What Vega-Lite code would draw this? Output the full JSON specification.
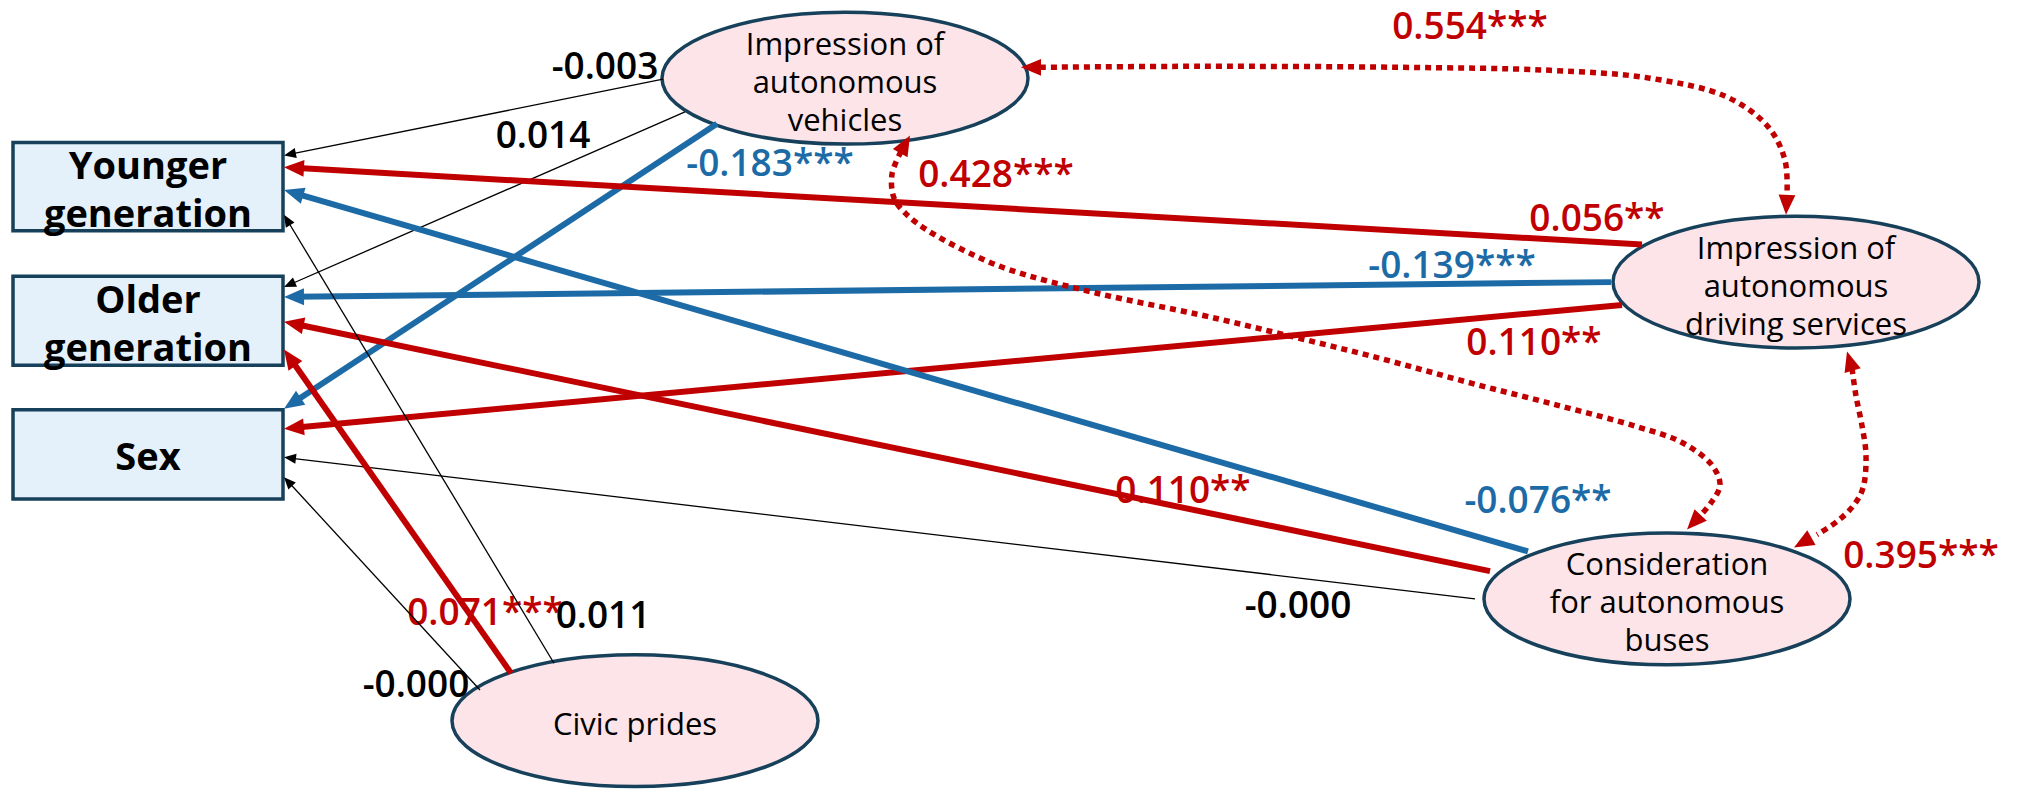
{
  "$schema": "https://vega.github.io/schema/vega-lite/v6.json",
  "description": "Path diagram: impressions of autonomous vehicles, services, buses and civic pride",
  "width": 2025,
  "height": 793,
  "autosize": {"type": "fit", "contains": "padding"},
  "padding": 0,
  "background": "white",
  "config": {"view": {"stroke": null}, "axis": {"disable": true}, "font": "Open Sans"},
  "datasets": {
    "boxes": [
      {"label": "Younger\ngeneration", "x1": 13, "x2": 283, "y1": 144, "y2": 233},
      {"label": "Older\ngeneration", "x1": 13, "x2": 283, "y1": 279, "y2": 369},
      {"label": "Sex", "x1": 13, "x2": 283, "y1": 414, "y2": 504}
    ],
    "nodes": [
      {"label": "Impression of\nautonomous\nvehicles", "x": 845, "y": 79},
      {"label": "Impression of\nautonomous\ndriving services", "x": 1796, "y": 285},
      {"label": "Consideration\nfor autonomous\nbuses", "x": 1667, "y": 605},
      {"label": "Civic prides", "x": 635, "y": 728}
    ],
    "edges": [
      {"sx": 663, "sy": 80, "tx": 284, "ty": 157, "kind": "ns"},
      {"sx": 685, "sy": 113, "tx": 284, "ty": 290, "kind": "ns"},
      {"sx": 717, "sy": 125, "tx": 284, "ty": 413, "kind": "neg"},
      {"sx": 1642, "sy": 247, "tx": 284, "ty": 169, "kind": "pos"},
      {"sx": 1611, "sy": 285, "tx": 284, "ty": 300, "kind": "neg"},
      {"sx": 1622, "sy": 308, "tx": 284, "ty": 433, "kind": "pos"},
      {"sx": 1528, "sy": 557, "tx": 284, "ty": 192, "kind": "neg"},
      {"sx": 1490, "sy": 577, "tx": 284, "ty": 325, "kind": "pos"},
      {"sx": 1475, "sy": 605, "tx": 284, "ty": 462, "kind": "ns"},
      {"sx": 554, "sy": 670, "tx": 284, "ty": 217, "kind": "ns"},
      {"sx": 511, "sy": 680, "tx": 284, "ty": 353, "kind": "pos"},
      {"sx": 480, "sy": 697, "tx": 284, "ty": 482, "kind": "ns"}
    ],
    "labels": [
      {"text": "-0.003", "x": 605, "y": 67, "kind": "ns"},
      {"text": "0.014", "x": 543, "y": 136, "kind": "ns"},
      {"text": "-0.183***", "x": 770, "y": 165, "kind": "neg"},
      {"text": "0.428***", "x": 996, "y": 176, "kind": "pos"},
      {"text": "0.554***", "x": 1470, "y": 26, "kind": "pos"},
      {"text": "0.056**", "x": 1597, "y": 220, "kind": "pos"},
      {"text": "-0.139***", "x": 1452, "y": 268, "kind": "neg"},
      {"text": "0.110**", "x": 1534, "y": 345, "kind": "pos"},
      {"text": "0.110**", "x": 1183, "y": 495, "kind": "pos"},
      {"text": "-0.076**", "x": 1538, "y": 505, "kind": "neg"},
      {"text": "0.395***", "x": 1921, "y": 561, "kind": "pos"},
      {"text": "-0.000", "x": 1298, "y": 611, "kind": "ns"},
      {"text": "0.071***", "x": 485, "y": 618, "kind": "pos"},
      {"text": "0.011", "x": 603, "y": 621, "kind": "ns"},
      {"text": "-0.000", "x": 416, "y": 691, "kind": "ns"}
    ],
    "curves": [
      {"curve": "a", "seq": 1, "x": 1040, "y": 68},
      {"curve": "a", "seq": 2, "x": 1200, "y": 67},
      {"curve": "a", "seq": 3, "x": 1400, "y": 68},
      {"curve": "a", "seq": 4, "x": 1550, "y": 71},
      {"curve": "a", "seq": 5, "x": 1650, "y": 79},
      {"curve": "a", "seq": 6, "x": 1727, "y": 98},
      {"curve": "a", "seq": 7, "x": 1768, "y": 128},
      {"curve": "a", "seq": 8, "x": 1785, "y": 162},
      {"curve": "a", "seq": 9, "x": 1787, "y": 197},
      {"curve": "b", "seq": 1, "x": 901, "y": 153},
      {"curve": "b", "seq": 2, "x": 892, "y": 176},
      {"curve": "b", "seq": 3, "x": 894, "y": 200},
      {"curve": "b", "seq": 4, "x": 906, "y": 216},
      {"curve": "b", "seq": 5, "x": 928, "y": 233},
      {"curve": "b", "seq": 6, "x": 964, "y": 253},
      {"curve": "b", "seq": 7, "x": 1008, "y": 272},
      {"curve": "b", "seq": 8, "x": 1096, "y": 296},
      {"curve": "b", "seq": 9, "x": 1200, "y": 318},
      {"curve": "b", "seq": 10, "x": 1280, "y": 337},
      {"curve": "b", "seq": 11, "x": 1380, "y": 362},
      {"curve": "b", "seq": 12, "x": 1471, "y": 387},
      {"curve": "b", "seq": 13, "x": 1560, "y": 410},
      {"curve": "b", "seq": 14, "x": 1637, "y": 431},
      {"curve": "b", "seq": 15, "x": 1682, "y": 447},
      {"curve": "b", "seq": 16, "x": 1712, "y": 470},
      {"curve": "b", "seq": 17, "x": 1720, "y": 490},
      {"curve": "b", "seq": 18, "x": 1711, "y": 508},
      {"curve": "b", "seq": 19, "x": 1701, "y": 520},
      {"curve": "c", "seq": 1, "x": 1852, "y": 372},
      {"curve": "c", "seq": 2, "x": 1856, "y": 400},
      {"curve": "c", "seq": 3, "x": 1862, "y": 430},
      {"curve": "c", "seq": 4, "x": 1866, "y": 460},
      {"curve": "c", "seq": 5, "x": 1863, "y": 493},
      {"curve": "c", "seq": 6, "x": 1854, "y": 510},
      {"curve": "c", "seq": 7, "x": 1838, "y": 526},
      {"curve": "c", "seq": 8, "x": 1817, "y": 540}
    ],
    "curveHeads": [
      {"tx": 1021, "ty": 68, "fx": 1040, "fy": 68},
      {"tx": 1786, "ty": 217, "fx": 1787, "fy": 197},
      {"tx": 910, "ty": 137, "fx": 901, "fy": 153},
      {"tx": 1687, "ty": 535, "fx": 1701, "fy": 520},
      {"tx": 1847, "ty": 355, "fx": 1852, "fy": 372},
      {"tx": 1794, "ty": 553, "fx": 1817, "fy": 540}
    ]
  },
  "layer": [
    {
      "data": {"name": "boxes"},
      "mark": {"type": "rect", "fill": "#E4F1FB", "stroke": "#17405A", "strokeWidth": 3.5},
      "encoding": {
        "x": {"field": "x1", "type": "quantitative", "scale": {"domain": [0, 2025], "nice": false, "zero": false}},
        "x2": {"field": "x2"},
        "y": {"field": "y1", "type": "quantitative", "scale": {"domain": [0, 793], "reverse": true, "nice": false, "zero": false}},
        "y2": {"field": "y2"}
      }
    },
    {
      "data": {"name": "nodes"},
      "mark": {
        "type": "point",
        "shape": "M-1,0C-1,-0.199,-0.552,-0.36,0,-0.36C0.552,-0.36,1,-0.199,1,0C1,0.199,0.552,0.36,0,0.36C-0.552,0.36,-1,0.199,-1,0Z",
        "size": 133956,
        "filled": true,
        "fill": "#FCE4E8",
        "stroke": "#17405A",
        "strokeWidth": 3.5,
        "opacity": 1
      },
      "encoding": {
        "x": {"field": "x", "type": "quantitative", "scale": {"domain": [0, 2025], "nice": false, "zero": false}},
        "y": {"field": "y", "type": "quantitative", "scale": {"domain": [0, 793], "reverse": true, "nice": false, "zero": false}}
      }
    },
    {
      "data": {"name": "labels"},
      "mark": {"type": "text", "fontSize": 37, "fontWeight": 600, "align": "center", "baseline": "middle", "dy": 2},
      "encoding": {
        "x": {"field": "x", "type": "quantitative", "scale": {"domain": [0, 2025], "nice": false, "zero": false}},
        "y": {"field": "y", "type": "quantitative", "scale": {"domain": [0, 793], "reverse": true, "nice": false, "zero": false}},
        "text": {"field": "text"},
        "color": {"field": "kind", "type": "nominal", "scale": {"domain": ["pos", "neg", "ns"], "range": ["#C00000", "#1D6BA6", "#000000"]}, "legend": null}
      }
    },
    {
      "data": {"name": "edges"},
      "transform": [
        {"calculate": "sqrt(pow(datum.tx - datum.sx, 2) + pow(datum.ty - datum.sy, 2))", "as": "len"},
        {"calculate": "datum.kind === 'ns' ? 4 : 10", "as": "cut"},
        {"calculate": "datum.tx - (datum.tx - datum.sx) / datum.len * datum.cut", "as": "ex"},
        {"calculate": "datum.ty - (datum.ty - datum.sy) / datum.len * datum.cut", "as": "ey"}
      ],
      "mark": {"type": "rule", "strokeCap": "butt"},
      "encoding": {
        "x": {"field": "sx", "type": "quantitative", "scale": {"domain": [0, 2025], "nice": false, "zero": false}},
        "y": {"field": "sy", "type": "quantitative", "scale": {"domain": [0, 793], "reverse": true, "nice": false, "zero": false}},
        "x2": {"field": "ex"},
        "y2": {"field": "ey"},
        "color": {"field": "kind", "type": "nominal", "scale": {"domain": ["pos", "neg", "ns"], "range": ["#C00000", "#1D6BA6", "#000000"]}, "legend": null},
        "strokeWidth": {"condition": {"test": "datum.kind === 'ns'", "value": 1.3}, "value": 6}
      }
    },
    {
      "data": {"name": "edges"},
      "transform": [
        {"calculate": "atan2(datum.tx - datum.sx, datum.sy - datum.ty) * 180 / PI", "as": "ang"}
      ],
      "mark": {"type": "point", "shape": "M0,0L-0.42,1L0.42,1Z", "filled": true, "opacity": 1, "strokeWidth": 0},
      "encoding": {
        "x": {"field": "tx", "type": "quantitative", "scale": {"domain": [0, 2025], "nice": false, "zero": false}},
        "y": {"field": "ty", "type": "quantitative", "scale": {"domain": [0, 793], "reverse": true, "nice": false, "zero": false}},
        "angle": {"field": "ang", "type": "quantitative", "scale": null},
        "color": {"field": "kind", "type": "nominal", "scale": {"domain": ["pos", "neg", "ns"], "range": ["#C00000", "#1D6BA6", "#000000"]}, "legend": null},
        "size": {"condition": {"test": "datum.kind === 'ns'", "value": 576}, "value": 1600}
      }
    },
    {
      "data": {"name": "curves"},
      "mark": {"type": "line", "interpolate": "catmull-rom", "color": "#C00000", "strokeWidth": 5.5, "strokeDash": [6, 5], "strokeCap": "butt"},
      "encoding": {
        "x": {"field": "x", "type": "quantitative", "scale": {"domain": [0, 2025], "nice": false, "zero": false}},
        "y": {"field": "y", "type": "quantitative", "scale": {"domain": [0, 793], "reverse": true, "nice": false, "zero": false}},
        "detail": {"field": "curve", "type": "nominal"},
        "order": {"field": "seq", "type": "quantitative"}
      }
    },
    {
      "data": {"name": "curveHeads"},
      "transform": [
        {"calculate": "atan2(datum.tx - datum.fx, datum.fy - datum.ty) * 180 / PI", "as": "ang"}
      ],
      "mark": {"type": "point", "shape": "M0,0L-0.42,1L0.42,1Z", "filled": true, "opacity": 1, "strokeWidth": 0, "color": "#C00000", "size": 1600},
      "encoding": {
        "x": {"field": "tx", "type": "quantitative", "scale": {"domain": [0, 2025], "nice": false, "zero": false}},
        "y": {"field": "ty", "type": "quantitative", "scale": {"domain": [0, 793], "reverse": true, "nice": false, "zero": false}},
        "angle": {"field": "ang", "type": "quantitative", "scale": null}
      }
    },
    {
      "data": {"name": "nodes"},
      "transform": [
        {"calculate": "length(split(datum.label, '\\n'))", "as": "nl"},
        {"calculate": "datum.y - (datum.nl - 1) * 19", "as": "ty"}
      ],
      "mark": {"type": "text", "fontSize": 31, "lineHeight": 38, "lineBreak": "\n", "align": "center", "baseline": "middle", "dy": 5, "color": "#000000"},
      "encoding": {
        "x": {"field": "x", "type": "quantitative", "scale": {"domain": [0, 2025], "nice": false, "zero": false}},
        "y": {"field": "ty", "type": "quantitative", "scale": {"domain": [0, 793], "reverse": true, "nice": false, "zero": false}},
        "text": {"field": "label"}
      }
    },
    {
      "data": {"name": "boxes"},
      "transform": [
        {"calculate": "length(split(datum.label, '\\n'))", "as": "nl"},
        {"calculate": "(datum.x1 + datum.x2) / 2", "as": "cx"},
        {"calculate": "(datum.y1 + datum.y2) / 2 - (datum.nl - 1) * 24", "as": "cy"}
      ],
      "mark": {"type": "text", "fontSize": 38, "fontWeight": "bold", "lineHeight": 48, "lineBreak": "\n", "align": "center", "baseline": "middle", "dy": 5, "color": "#000000"},
      "encoding": {
        "x": {"field": "cx", "type": "quantitative", "scale": {"domain": [0, 2025], "nice": false, "zero": false}},
        "y": {"field": "cy", "type": "quantitative", "scale": {"domain": [0, 793], "reverse": true, "nice": false, "zero": false}},
        "text": {"field": "label"}
      }
    }
  ]
}
